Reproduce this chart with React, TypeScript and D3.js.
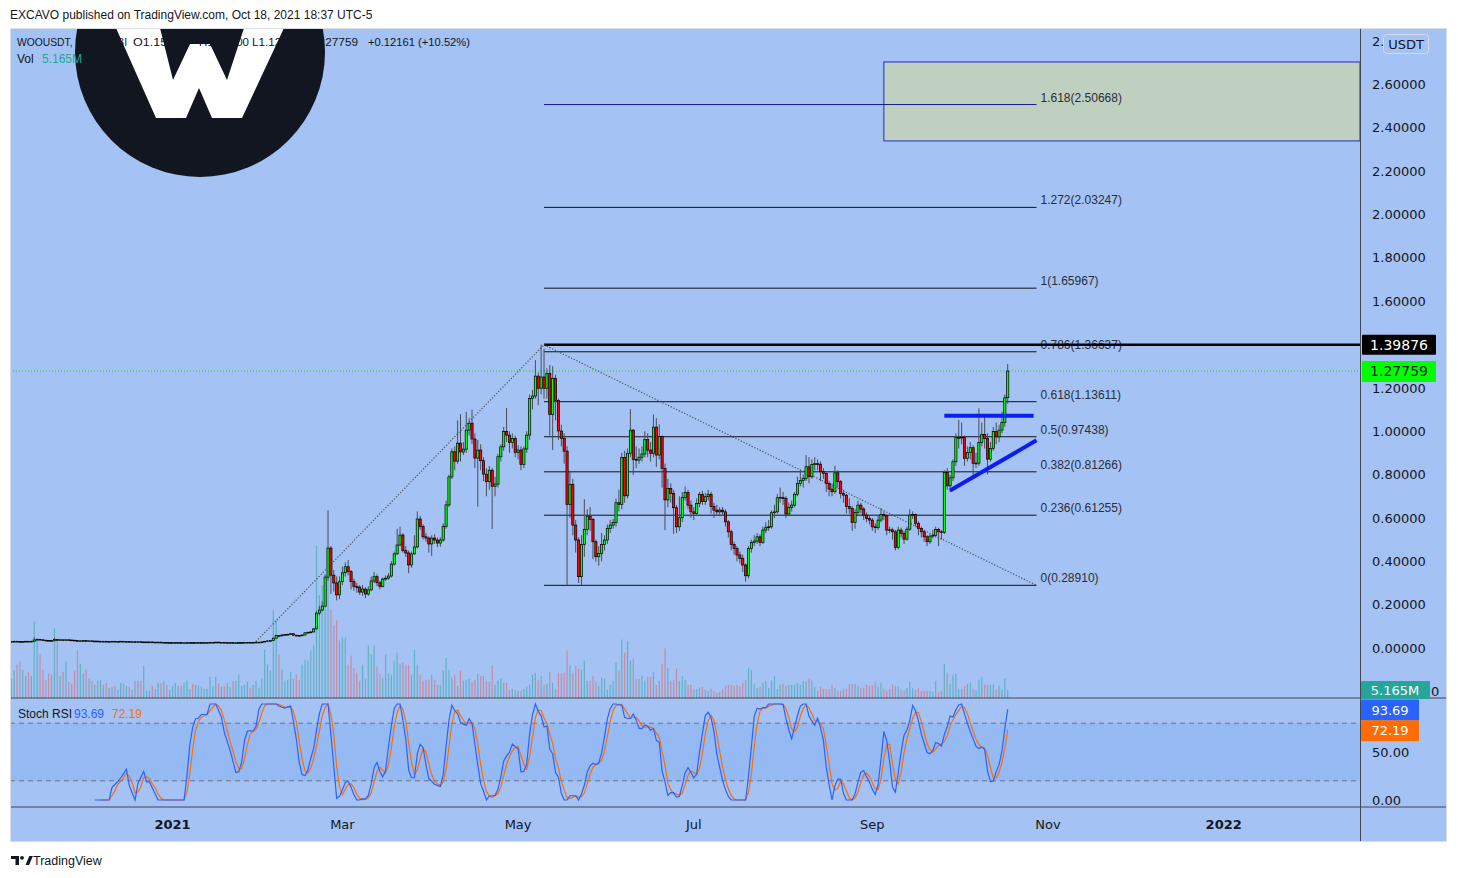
import * as d3 from "d3";

// ---- layout ----
const W = 1458;
const H = 878;
const left = 10;
const plotRight = 1360;
const frameRight = 1447;
const mainTop = 28;
const mainBottom = 698;
const stochBottom = 807;
const frameBottom = 842;
const BG = "#a4c2f4";
const AXIS_FONT = "DejaVu Sans, Verdana, sans-serif";
const UI_FONT = "Liberation Sans, Arial, sans-serif";

// ---- data ----
const firstDay = new Date(2020, 10, 6);

const closes = [
  0.030, 0.031, 0.030, 0.029, 0.030, 0.031, 0.030, 0.031, 0.037,
  0.040, 0.038, 0.036, 0.035, 0.034, 0.033, 0.039, 0.037, 0.038, 0.037,
  0.038, 0.037, 0.036, 0.034, 0.033, 0.033, 0.034, 0.033, 0.033, 0.032,
  0.032, 0.031, 0.031, 0.031, 0.030, 0.030, 0.031, 0.030, 0.030, 0.031,
  0.030, 0.030, 0.029, 0.029, 0.028, 0.029, 0.028, 0.028, 0.028, 0.028,
  0.027, 0.027, 0.027, 0.026, 0.026, 0.025, 0.025, 0.025, 0.025, 0.025,
  0.024, 0.024, 0.025, 0.025, 0.024, 0.025, 0.025, 0.024, 0.025, 0.025,
  0.026, 0.026, 0.027, 0.026, 0.026, 0.025, 0.025, 0.025, 0.024, 0.024,
  0.025, 0.025, 0.026, 0.026, 0.025, 0.026, 0.027, 0.027, 0.028, 0.031,
  0.033, 0.034, 0.045, 0.057, 0.056, 0.060, 0.062, 0.063, 0.066, 0.059,
  0.058, 0.057, 0.060, 0.070, 0.072, 0.074, 0.088, 0.161, 0.175, 0.193,
  0.327, 0.461, 0.336, 0.300, 0.245, 0.306, 0.347, 0.375, 0.352, 0.306,
  0.283, 0.281, 0.258, 0.272, 0.249, 0.268, 0.309, 0.329, 0.301, 0.283,
  0.318, 0.322, 0.332, 0.387, 0.434, 0.475, 0.521, 0.449, 0.438, 0.383,
  0.434, 0.466, 0.595, 0.560, 0.513, 0.507, 0.480, 0.507, 0.498, 0.484,
  0.498, 0.560, 0.660, 0.789, 0.905, 0.862, 0.945, 0.904, 0.917, 1.005,
  1.037, 0.964, 0.876, 0.913, 0.864, 0.802, 0.767, 0.820, 0.746, 0.756,
  0.882, 0.928, 0.998, 0.982,
  0.948, 0.967, 0.902, 0.913, 0.847, 0.918, 0.982, 1.151, 1.162, 1.254,
  1.198, 1.250, 1.198, 1.267, 1.077, 1.244, 1.142, 1.001, 0.967, 0.908,
  0.662, 0.755, 0.567, 0.498, 0.329, 0.478, 0.547, 0.608, 0.593, 0.490,
  0.421, 0.436, 0.478, 0.498, 0.552, 0.567, 0.579, 0.670, 0.662, 0.879,
  0.702, 0.898, 1.005, 0.870, 0.867, 0.880, 0.895, 0.962, 0.913, 0.898,
  1.019, 0.890, 0.975, 0.828, 0.683, 0.736, 0.712, 0.647, 0.559, 0.601,
  0.695, 0.718, 0.659, 0.628, 0.621, 0.667, 0.709, 0.675, 0.698, 0.709,
  0.652, 0.636, 0.628, 0.636, 0.628, 0.582, 0.536, 0.478, 0.459, 0.429,
  0.413, 0.383, 0.333,
  0.459, 0.487, 0.493, 0.513, 0.487, 0.544, 0.555, 0.559, 0.624, 0.628,
  0.693, 0.695, 0.690, 0.618, 0.648, 0.659, 0.709, 0.759, 0.773, 0.782,
  0.836, 0.790, 0.847, 0.850, 0.848, 0.813, 0.805, 0.759, 0.733, 0.721,
  0.808, 0.767, 0.713, 0.705, 0.652, 0.644, 0.579, 0.625, 0.659, 0.641,
  0.613, 0.598, 0.590, 0.559, 0.555, 0.590, 0.616, 0.610, 0.544, 0.545,
  0.536, 0.464, 0.544, 0.528, 0.502, 0.548, 0.613, 0.616, 0.575, 0.552,
  0.536, 0.513, 0.490, 0.516, 0.520, 0.547, 0.536, 0.533, 0.810, 0.748,
  0.785, 0.859, 0.970, 0.971, 0.972, 0.875, 0.902, 0.924, 0.852, 0.853,
  0.948, 0.985, 0.967, 0.871, 0.921, 0.998, 0.974, 1.005, 1.041, 1.15445, 1.27759,
];

const highs = [
  0.032, 0.033, 0.032, 0.031, 0.032, 0.033, 0.032, 0.033, 0.050,
  0.044, 0.041, 0.039, 0.037, 0.036, 0.035, 0.046, 0.040, 0.040, 0.039,
  0.039, 0.039, 0.038, 0.037, 0.035, 0.035, 0.035, 0.035, 0.034, 0.034,
  0.034, 0.033, 0.033, 0.032, 0.032, 0.032, 0.032, 0.032, 0.031, 0.033,
  0.032, 0.031, 0.031, 0.030, 0.030, 0.030, 0.030, 0.029, 0.029, 0.029,
  0.029, 0.028, 0.028, 0.028, 0.027, 0.027, 0.026, 0.026, 0.026, 0.026,
  0.026, 0.025, 0.026, 0.026, 0.026, 0.026, 0.026, 0.026, 0.026, 0.026,
  0.027, 0.027, 0.028, 0.028, 0.027, 0.027, 0.026, 0.026, 0.026, 0.025,
  0.026, 0.026, 0.027, 0.027, 0.027, 0.027, 0.028, 0.028, 0.029, 0.032,
  0.035, 0.036, 0.048, 0.060, 0.060, 0.063, 0.065, 0.066, 0.069, 0.067,
  0.061, 0.060, 0.062, 0.073, 0.076, 0.078, 0.092, 0.170, 0.195, 0.215,
  0.340, 0.636, 0.470, 0.360, 0.330, 0.330, 0.375, 0.395, 0.405, 0.360,
  0.320, 0.300, 0.290, 0.290, 0.280, 0.285, 0.330, 0.350, 0.340, 0.310,
  0.325, 0.335, 0.345, 0.400, 0.445, 0.550, 0.560, 0.530, 0.470, 0.450,
  0.445, 0.520, 0.630, 0.610, 0.570, 0.530, 0.515, 0.520, 0.525, 0.510,
  0.510, 0.575, 0.680, 0.800, 0.920, 0.930, 1.050, 1.079, 0.950, 1.089,
  1.060, 1.100, 0.990, 0.960, 0.940, 0.880, 0.830, 0.840, 0.830, 0.790,
  0.895, 0.940, 1.020, 1.107,
  1.000, 0.990, 0.980, 0.935, 0.930, 0.930, 1.000, 1.170, 1.190, 1.328,
  1.270, 1.39876, 1.380, 1.290, 1.305, 1.300, 1.260, 1.150, 1.030, 0.990,
  0.930, 0.813, 0.780, 0.590, 0.510, 0.520, 0.687, 0.640, 0.650, 0.600,
  0.500, 0.470, 0.530, 0.520, 0.570, 0.590, 0.595, 0.690, 0.730, 0.900,
  0.910, 0.920, 1.102, 1.010, 0.930, 0.920, 0.930, 1.000, 0.990, 0.950,
  1.077, 1.060, 1.031, 0.980, 0.850, 0.780, 0.760, 0.730, 0.660, 0.700,
  0.720, 0.745, 0.730, 0.680, 0.650, 0.690, 0.720, 0.725, 0.715, 0.730,
  0.720, 0.670, 0.660, 0.650, 0.650, 0.640, 0.590, 0.545, 0.490, 0.470,
  0.445, 0.430, 0.390,
  0.470, 0.500, 0.520, 0.530, 0.525, 0.560, 0.580, 0.590, 0.635, 0.660,
  0.710, 0.740, 0.720, 0.700, 0.670, 0.680, 0.720, 0.790, 0.820, 0.800,
  0.890, 0.880, 0.870, 0.880, 0.870, 0.860, 0.830, 0.810, 0.770, 0.760,
  0.840, 0.820, 0.775, 0.730, 0.710, 0.690, 0.655, 0.640, 0.680, 0.670,
  0.650, 0.625, 0.610, 0.600, 0.575, 0.610, 0.645, 0.630, 0.615, 0.560,
  0.555, 0.545, 0.560, 0.555, 0.540, 0.560, 0.640, 0.630, 0.620, 0.585,
  0.560, 0.545, 0.520, 0.525, 0.545, 0.560, 0.555, 0.545, 0.820, 0.830,
  0.800, 0.870, 0.990, 1.052, 1.040, 0.980, 0.930, 0.950, 0.935, 0.900,
  1.105, 1.040, 1.080, 0.990, 0.950, 1.020, 1.040, 1.030, 1.090, 1.170, 1.310,
];

const lows = [
  0.028, 0.029, 0.029, 0.028, 0.028, 0.029, 0.029, 0.029, 0.030,
  0.036, 0.037, 0.035, 0.034, 0.033, 0.032, 0.032, 0.036, 0.036, 0.036,
  0.036, 0.036, 0.035, 0.033, 0.032, 0.032, 0.032, 0.032, 0.032, 0.031,
  0.031, 0.030, 0.030, 0.030, 0.029, 0.029, 0.029, 0.029, 0.029, 0.029,
  0.029, 0.029, 0.028, 0.028, 0.027, 0.027, 0.027, 0.027, 0.027, 0.027,
  0.026, 0.026, 0.026, 0.025, 0.025, 0.024, 0.024, 0.024, 0.024, 0.024,
  0.023, 0.023, 0.023, 0.024, 0.023, 0.023, 0.024, 0.023, 0.023, 0.024,
  0.024, 0.025, 0.025, 0.025, 0.025, 0.024, 0.024, 0.024, 0.023, 0.023,
  0.023, 0.024, 0.024, 0.025, 0.024, 0.024, 0.025, 0.026, 0.026, 0.027,
  0.030, 0.032, 0.033, 0.044, 0.053, 0.054, 0.058, 0.060, 0.061, 0.057,
  0.055, 0.054, 0.055, 0.058, 0.068, 0.068, 0.072, 0.086, 0.150, 0.170,
  0.190, 0.310, 0.250, 0.260, 0.220, 0.225, 0.290, 0.330, 0.335, 0.270,
  0.265, 0.255, 0.245, 0.240, 0.230, 0.240, 0.262, 0.300, 0.285, 0.270,
  0.280, 0.310, 0.315, 0.325, 0.380, 0.430, 0.470, 0.440, 0.420, 0.345,
  0.370, 0.430, 0.460, 0.545, 0.500, 0.490, 0.440, 0.425, 0.480, 0.465,
  0.467, 0.490, 0.550, 0.650, 0.780, 0.820, 0.850, 0.860, 0.890, 0.900,
  0.980, 0.940, 0.830, 0.652, 0.820, 0.770, 0.700, 0.730, 0.549, 0.700,
  0.740, 0.860, 0.910, 0.950,
  0.900, 0.920, 0.880, 0.870, 0.820, 0.830, 0.900, 0.960, 1.100, 1.150,
  1.120, 1.170, 1.150, 1.150, 0.980, 0.913, 1.050, 0.960, 0.930, 0.850,
  0.2891, 0.600, 0.520, 0.440, 0.300, 0.2891, 0.420, 0.520, 0.540, 0.410,
  0.398, 0.380, 0.400, 0.450, 0.480, 0.530, 0.550, 0.560, 0.630, 0.640,
  0.670, 0.690, 0.880, 0.798, 0.830, 0.850, 0.860, 0.880, 0.880, 0.860,
  0.880, 0.836, 0.870, 0.740, 0.544, 0.650, 0.670, 0.526, 0.530, 0.540,
  0.580, 0.680, 0.640, 0.600, 0.590, 0.610, 0.650, 0.660, 0.660, 0.680,
  0.620, 0.600, 0.610, 0.615, 0.610, 0.560, 0.510, 0.450, 0.430, 0.400,
  0.390, 0.350, 0.306,
  0.321, 0.440, 0.470, 0.480, 0.470, 0.480, 0.530, 0.540, 0.550, 0.600,
  0.620, 0.670, 0.660, 0.600, 0.610, 0.630, 0.650, 0.700, 0.745, 0.740,
  0.770, 0.760, 0.780, 0.820, 0.820, 0.770, 0.780, 0.720, 0.700, 0.700,
  0.710, 0.740, 0.690, 0.670, 0.620, 0.620, 0.540, 0.550, 0.610, 0.620,
  0.590, 0.580, 0.570, 0.540, 0.530, 0.545, 0.580, 0.590, 0.520, 0.530,
  0.500, 0.450, 0.455, 0.510, 0.480, 0.495, 0.540, 0.595, 0.560, 0.520,
  0.510, 0.490, 0.470, 0.480, 0.505, 0.510, 0.470, 0.500, 0.525, 0.730,
  0.720, 0.770, 0.840, 0.920, 0.940, 0.840, 0.860, 0.870, 0.780, 0.830,
  0.840, 0.930, 0.920, 0.800, 0.860, 0.910, 0.940, 0.950, 0.990, 1.020, 1.126,
];

// volume, millions
const volumes = [
  12.4, 17.6, 21.5, 23.4, 18.2, 14.3, 16.9, 14.3, 49.4,
  37.7, 28, 18.2, 11.7, 15.6, 15, 44.9, 37.1, 14.3, 16.9,
  23.4, 10.4, 9.1, 17.6, 30.6, 22.1, 15.6, 18.2, 12.4, 11.1,
  8.5, 11.1, 11.7, 8.5, 9.8, 6.5, 7.2, 7.8, 5.2, 9.8,
  9.1, 7.8, 7.2, 5.2, 11.1, 11.1, 11.1, 20.8, 4.6, 4.6,
  7.8, 5.9, 9.8, 9.8, 11.1, 8.5, 5.2, 7.8, 9.8, 7.8,
  7.8, 9.8, 11.1, 5.9, 9.1, 8.5, 7.8, 7.2, 5.9, 5.9,
  13.7, 7.8, 13.7, 9.1, 7.2, 7.8, 9.8, 7.2, 11.1, 11.1,
  15, 7.8, 8.5, 10.4, 6.5, 8.5, 11.1, 6.5, 12.4, 31.2,
  21.5, 17.6, 56.6, 50.1, 28, 18.2, 11.1, 11.7, 16.9, 12.4,
  15, 11.7, 21.5, 24.7, 24.1,
  30.6, 33.8, 98.2, 66.3, 72.8, 59.8, 91, 57.2, 46.8, 50.1,
  37.1, 39, 39, 21.5, 27.3, 19.5, 16.3, 11.1, 21.5, 12.4,
  33.8, 28, 33.8, 20.2, 15.6, 13, 28, 15.6, 15, 24.1,
  29.3, 22.1, 22.8, 21.5, 21.5, 15, 31.2, 21.5, 15, 11.1,
  11.7, 11.7, 15, 11.7, 8.5, 8.5, 17.6, 26, 18.2, 13,
  15, 7.8, 17.6, 11.1, 11.7, 12.4, 10.4, 11.7, 15.6, 14.3,
  14.3, 11.1, 10.4, 20.8, 8.5, 11.1, 12.4, 9.8, 9.8,
  5.2, 5.9, 5.2, 4.6, 4.6, 5.9, 7.2, 8.5, 15, 16.3,
  11.7, 14.3, 8.5, 9.1, 16.9, 9.8, 5.9, 16.3, 15.6, 16.3,
  30.6, 20.8, 16.3, 20.8, 18.9, 18.2, 24.1, 11.1, 11.1, 14.3,
  10.4, 7.8, 13, 12.4, 5.2, 8.5, 11.1, 22.8, 17.6, 37.7,
  29.3, 36.4, 24.1, 25.4, 12.4, 12.4, 14.3, 11.1, 13.7, 13.7,
  16.9, 8.5, 11.1, 22.1, 31.9, 19.5, 11.1, 11.7, 18.9, 11.1,
  14.3, 11.7, 8.5, 8.5, 5.9, 5.9, 6.5, 7.2, 5.2, 4.6,
  5.9, 4.6, 3.3, 3.9, 5.9, 7.8, 8.5, 8.5, 7.8, 8.5,
  7.2, 9.8, 11.7,
  19.5, 18.2,
  9.1, 6.5, 7.2, 9.8, 11.1, 6.5, 11.1, 14.3, 5.9, 8.5,
  9.1, 7.8, 8.5, 8.5, 8.5, 9.8, 8.5, 11.1, 10.4, 12.4,
  11.1, 7.2, 4.6, 7.2, 5.9, 5.9, 5.9, 8.5, 6.5, 4.6,
  4.6, 5.9, 5.9, 9.1, 9.1, 9.1, 7.8, 6.5, 6.5, 8.5,
  7.8, 7.8, 10.4, 7.2, 9.8, 5.9, 4.6, 5.9, 8.5, 7.8,
  7.2, 5.2, 4.6, 6.5, 10.4, 6.5, 5.2, 6.5, 4.6, 4.6,
  4.6, 4.6,
  3.9, 11.1, 3.9, 4.6, 22.1, 16.3, 9.1, 15, 15.6, 5.9,
  5.9, 7.8, 9.1, 9.8, 5.9, 5.2, 11.7, 13.7, 8.5, 8.5,
  8.5, 8.5, 5.2, 7.8, 5.2, 12.4, 5.165,
];

const fibRatios = ["0", "0.236", "0.382", "0.5", "0.618", "0.786", "1", "1.272", "1.618"];
const fibPrices = [0.2891, 0.61255, 0.81266, 0.97438, 1.13611, 1.36637, 1.65967, 2.03247, 2.50668];
const fibStart = "2021-05-10";
const fibEnd = "2021-10-28";
const swingHigh = 1.39876;
const lastClose = 1.27759;

const priceTicks = [0, 0.2, 0.4, 0.6, 0.8, 1.0, 1.2, 1.4, 1.6, 1.8, 2.0, 2.2, 2.4, 2.6, 2.8];
const stochTicks = [0, 50];
const timeTickDates = ["2021-01-01", "2021-03-01", "2021-05-01", "2021-07-01", "2021-09-01", "2021-11-01", "2022-01-01"];
const timeTickLabels = ["2021", "Mar", "May", "Jul", "Sep", "Nov", "2022"];

// legend pieces: text, x, width in the picture
const legendItems: [string, number, number][] = [
  ["WOOUSDT, 1D, HUOBI", 17, 110],
  ["O1.15445", 133, 55],
  ["H1.31000", 199, 50],
  ["L1.12600", 252, 49],
  ["C1.27759", 307, 51],
  ["+0.12161 (+10.52%)", 368, 102],
];

// drawings: [date, price]
const riseLine: [string, number][] = [["2021-01-30", 0.03], ["2021-05-10", 1.39876]];
const fibDiagonal: [string, number][] = [["2021-05-10", 1.39876], ["2021-10-28", 0.2891]];
const targetBox = { from: "2021-09-05", top: 2.703, bottom: 2.339 };
const resistance: [string, number][] = [["2021-09-26", 1.071], ["2021-10-27", 1.071]];
const support: [string, number][] = [["2021-09-28", 0.726], ["2021-10-28", 0.958]];

const stochK = 93.69;
const stochD = 72.19;
const lastVol = "5.165M";

// ---- scales ----
const parse = d3.timeParse("%Y-%m-%d");
const x = d3
  .scaleTime()
  .domain([new Date(2021, 0, 1), new Date(2022, 0, 1)])
  .range([172.5, 172.5 + 365 * 2.88]);
const y = d3.scaleLinear().domain([0, 1]).range([648, 431.2]);
const yVol = d3.scaleLinear().domain([0, 100]).range([mainBottom, mainBottom - 155]);
const yStoch = d3.scaleLinear().domain([0, 100]).range([800, 704]);

const dates = closes.map((_, i) => d3.timeDay.offset(firstDay, i));
const opens = closes.map((c, i) => (i === 0 ? c : closes[i - 1]));

function smaSeries(src: (number | null)[], len: number) {
  return src.map((_, i) => {
    if (i < len - 1) return null;
    const win = src.slice(i - len + 1, i + 1);
    if (win.some((v) => v === null)) return null;
    return d3.mean(win as number[]) as number;
  });
}

// Stoch RSI (14, 14, 3, 3)
function stochRsi(c: number[]) {
  const n = c.length;
  const rsi: (number | null)[] = new Array(n).fill(null);
  let up = 0;
  let dn = 0;
  for (let i = 1; i < n; i++) {
    const ch = c[i] - c[i - 1];
    const u = Math.max(ch, 0);
    const d = Math.max(-ch, 0);
    if (i <= 14) {
      up += u / 14;
      dn += d / 14;
      if (i < 14) continue;
    } else {
      up = (up * 13 + u) / 14;
      dn = (dn * 13 + d) / 14;
    }
    rsi[i] = dn === 0 ? 100 : up === 0 ? 0 : 100 - 100 / (1 + up / dn);
  }
  const st: (number | null)[] = rsi.map((r, i) => {
    if (r === null || i < 27) return null;
    const win = rsi.slice(i - 13, i + 1) as number[];
    const lo = d3.min(win) as number;
    const hi = d3.max(win) as number;
    return hi === lo ? 50 : ((r - lo) / (hi - lo)) * 100;
  });
  const k = smaSeries(st, 3);
  const dd = smaSeries(k, 3);
  return { k, d: dd };
}

const P = (p: [string, number]) => [x(parse(p[0]) as Date), y(p[1])] as [number, number];

export default function App() {
  const { k, d } = stochRsi(closes);
  const line = d3
    .line<number | null>()
    .defined((v) => v !== null)
    .x((_, i) => x(dates[i]))
    .y((v) => yStoch(v as number));

  const fx1 = x(parse(fibStart) as Date);
  const fx2 = x(parse(fibEnd) as Date);
  const boxX = x(parse(targetBox.from) as Date);
  const r0 = P(riseLine[0]);
  const r1 = P(riseLine[1]);
  const f0 = P(fibDiagonal[0]);
  const f1 = P(fibDiagonal[1]);
  const h0 = P(resistance[0]);
  const h1 = P(resistance[1]);
  const s0 = P(support[0]);
  const s1 = P(support[1]);

  return (
    <svg
      width={W}
      height={H}
      style={{ position: "absolute", left: 0, top: 0, background: "#fff" }}
      fontFamily={UI_FONT}
    >
      <defs>
        <clipPath id="mainClip">
          <rect x={left} y={mainTop} width={plotRight - left} height={mainBottom - mainTop} />
        </clipPath>
        <clipPath id="stochClip">
          <rect x={left} y={mainBottom} width={plotRight - left} height={stochBottom - mainBottom} />
        </clipPath>
      </defs>

      <text x={10} y={18.5} fontSize={12} fill="#131722">
        EXCAVO published on TradingView.com, Oct 18, 2021 18:37 UTC-5
      </text>

      {/* chart background */}
      <rect x={left} y={mainTop} width={frameRight - left} height={frameBottom - mainTop} fill={BG} />
      <rect
        x={left}
        y={yStoch(80)}
        width={plotRight - left}
        height={yStoch(20) - yStoch(80)}
        fill="#95b9f2"
      />

      <g clipPath="url(#mainClip)">
        {/* logo */}
        <circle cx={200} cy={52} r={125} fill="#121620" />
        <polygon
          points="116,28 160,28 173,80 190,44 210,44 227,80 244,28 284,28 242,118 212,118 199,88 186,118 156,118"
          fill="#ffffff"
        />

        {/* target box */}
        <rect
          x={boxX}
          y={y(targetBox.top)}
          width={plotRight - boxX}
          height={y(targetBox.bottom) - y(targetBox.top)}
          fill="#bfcfc0"
          stroke="#1f2ccf"
          strokeWidth={1}
        />

        {/* volume */}
        {volumes.map((v, i) => (
          <rect
            key={"v" + i}
            x={x(dates[i]) - 0.6}
            width={1.2}
            y={yVol(v)}
            height={mainBottom - yVol(v)}
            fill={closes[i] >= opens[i] ? "rgba(38,166,154,0.55)" : "rgba(239,83,80,0.5)"}
          />
        ))}

        {/* fib levels */}
        {fibPrices.map((p, i) => (
          <g key={"f" + i}>
            <line x1={fx1} x2={fx2} y1={y(p)} y2={y(p)} stroke={i === 8 ? "#141a8a" : "#111"} strokeWidth={1} />
            <text x={fx2 + 4} y={y(p) - 3} fontSize={12} fill="#2a2e39">
              {fibRatios[i]}({p.toFixed(5)})
            </text>
          </g>
        ))}
        <line x1={f0[0]} x2={plotRight} y1={y(swingHigh)} y2={y(swingHigh)} stroke="#000" strokeWidth={2.5} />
        <line
          x1={left}
          x2={plotRight}
          y1={y(lastClose)}
          y2={y(lastClose)}
          stroke="#00e600"
          strokeWidth={1}
          strokeDasharray="1 2"
        />

        {/* dotted trend lines */}
        <line x1={r0[0]} y1={r0[1]} x2={r1[0]} y2={r1[1]} stroke="#4b4f5a" strokeWidth={1.2} strokeDasharray="1.2 1.8" />
        <line x1={f0[0]} y1={f0[1]} x2={f1[0]} y2={f1[1]} stroke="#4b4f5a" strokeWidth={1.2} strokeDasharray="1.2 1.8" />

        {/* candles */}
        {closes.map((c, i) => {
          const cx = x(dates[i]);
          const o = opens[i];
          const top = y(Math.max(o, c));
          const bot = y(Math.min(o, c));
          const up = c >= o;
          return (
            <g key={"c" + i}>
              <line x1={cx} x2={cx} y1={y(highs[i])} y2={y(lows[i])} stroke="#4a4d55" strokeWidth={1} />
              <rect
                x={cx - 1.1}
                width={2.2}
                y={top}
                height={Math.max(bot - top, 0.8)}
                fill={up ? "#00ff00" : "#ff0000"}
                stroke="#000"
                strokeWidth={0.7}
              />
            </g>
          );
        })}

        {/* blue pattern lines */}
        <line x1={h0[0]} y1={h0[1]} x2={h1[0]} y2={h1[1]} stroke="#0b1ef2" strokeWidth={4} />
        <line x1={s0[0]} y1={s0[1]} x2={s1[0]} y2={s1[1]} stroke="#0b1ef2" strokeWidth={4} />
      </g>

      {/* legend */}
      <g fontSize={11} fill="#131722">
        {legendItems.map(([t, lx, w]) => (
          <text key={t} x={lx} y={45.5} textLength={w} lengthAdjust="spacingAndGlyphs">
            {t}
          </text>
        ))}
        <text x={17} y={62.5} fontSize={12}>
          Vol
        </text>
        <text x={42} y={62.5} fontSize={12} fill="#26a69a">
          {lastVol}
        </text>
      </g>

      {/* stoch rsi */}
      <g clipPath="url(#stochClip)">
        {[80, 20].map((v) => (
          <line
            key={v}
            x1={left}
            x2={plotRight}
            y1={yStoch(v)}
            y2={yStoch(v)}
            stroke="#6f737d"
            strokeDasharray="5 4"
          />
        ))}
        <path d={line(d) ?? ""} fill="none" stroke="#ff6d00" strokeWidth={1.2} />
        <path d={line(k) ?? ""} fill="none" stroke="#2962ff" strokeWidth={1.2} />
      </g>
      <g fontSize={12}>
        <text x={18} y={718} fill="#131722">
          Stoch RSI
        </text>
        <text x={74} y={718} fill="#2962ff">
          {stochK.toFixed(2)}
        </text>
        <text x={112} y={718} fill="#ff6d00">
          {stochD.toFixed(2)}
        </text>
      </g>

      {/* pane separators */}
      <line x1={left} x2={frameRight} y1={mainBottom} y2={mainBottom} stroke="#434651" />
      <line x1={left} x2={frameRight} y1={stochBottom} y2={stochBottom} stroke="#434651" />
      <line x1={plotRight + 0.5} x2={plotRight + 0.5} y1={mainTop} y2={frameBottom} stroke="#434651" />

      {/* price axis */}
      <g fontFamily={AXIS_FONT} fontSize={13} fill="#131722">
        {priceTicks.map((t) => (
          <text key={t} x={1372} y={y(t)} dy="0.36em">
            {t.toFixed(5)}
          </text>
        ))}
        {stochTicks.map((t) => (
          <text key={"s" + t} x={1372} y={yStoch(t)} dy="0.36em">
            {t.toFixed(2)}
          </text>
        ))}
        <text x={1431} y={691} dy="0.36em">
          0
        </text>
      </g>
      <rect x={1383.5} y={34.5} width={45} height={19} rx={3} fill={BG} stroke="#d6dbe6" />
      <text x={1406} y={44} dy="0.36em" textAnchor="middle" fontFamily={AXIS_FONT} fontSize={13} fill="#131722">
        USDT
      </text>

      {/* value badges */}
      <g fontFamily={AXIS_FONT} fontSize={13}>
        <rect x={1362} y={y(swingHigh) - 10} width={74} height={20} fill="#000" rx={1} />
        <text x={1399} y={y(swingHigh)} dy="0.36em" textAnchor="middle" fill="#fff" fontSize={14}>
          {swingHigh.toFixed(5)}
        </text>
        <rect x={1362} y={y(lastClose) - 10} width={74} height={21} fill="#00ff00" rx={1} />
        <text x={1399} y={y(lastClose)} dy="0.36em" textAnchor="middle" fill="#131722" fontSize={14}>
          {lastClose.toFixed(5)}
        </text>
        <rect x={1361} y={681} width={69} height={18} fill="#26a69a" rx={1} />
        <text x={1395} y={690} dy="0.36em" textAnchor="middle" fill="#fff">
          {lastVol}
        </text>
        <rect x={1361} y={yStoch(stochK) - 10.5} width={58} height={21} fill="#2962ff" rx={1} />
        <text x={1390} y={yStoch(stochK)} dy="0.36em" textAnchor="middle" fill="#fff">
          {stochK.toFixed(2)}
        </text>
        <rect x={1361} y={yStoch(stochD) - 10.5} width={58} height={21} fill="#ff6d00" rx={1} />
        <text x={1390} y={yStoch(stochD)} dy="0.36em" textAnchor="middle" fill="#fff">
          {stochD.toFixed(2)}
        </text>
      </g>

      {/* time axis */}
      <g fontFamily={AXIS_FONT} fontSize={13} fill="#131722" textAnchor="middle">
        {timeTickDates.map((t, i) => (
          <text
            key={t}
            x={x(parse(t) as Date)}
            y={824}
            dy="0.36em"
            fontWeight={/^\d/.test(timeTickLabels[i]) ? "bold" : "normal"}
          >
            {timeTickLabels[i]}
          </text>
        ))}
      </g>

      <rect
        x={left + 0.5}
        y={mainTop + 0.5}
        width={frameRight - left - 1}
        height={frameBottom - mainTop - 1}
        fill="none"
        stroke="#d9dde6"
      />

      {/* footer logo */}
      <g fill="#131722">
        <path d="M11 856h8v9h-3.5v-6H11z" />
        <circle cx={22} cy={857.8} r={1.9} />
        <path d="M25.5 865l3.8-9h3.6l-3.8 9z" />
        <text x={33} y={864.5} fontSize={12.5}>
          TradingView
        </text>
      </g>
    </svg>
  );
}
